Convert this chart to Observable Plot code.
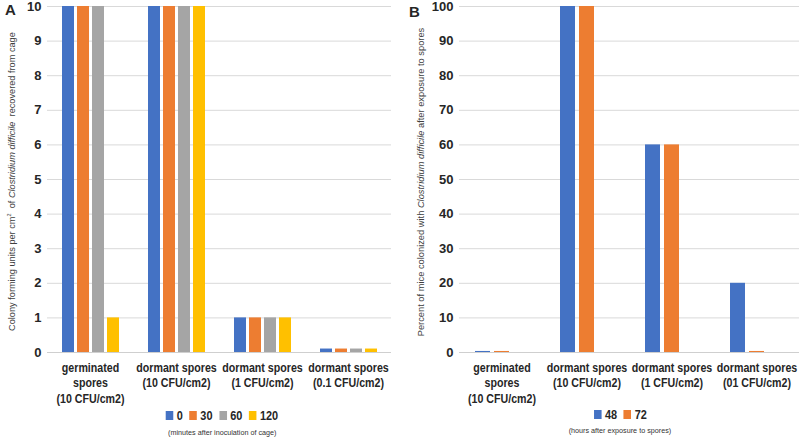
<!DOCTYPE html>
<html>
<head>
<meta charset="utf-8">
<script src="https://cdn.jsdelivr.net/npm/d3@7"></script>
<script src="https://cdn.jsdelivr.net/npm/@observablehq/plot@0.6"></script>
<style>
  html, body { margin: 0; padding: 0; background: #fff; }
  body { width: 800px; height: 440px; position: relative; overflow: hidden; font-family: "Liberation Sans", Arial, sans-serif; color: #262626; }
  .panel { position: absolute; top: 0; width: 400px; height: 440px; }
  .letter { position: absolute; font-weight: bold; font-size: 15px; }
  .ylab { position: absolute; white-space: nowrap; transform-origin: center center; color: #404040; }
  .legend { position: absolute; display: flex; justify-content: center; gap: 8px; font-weight: bold; font-size: 13px; transform: scaleX(0.84); transform-origin: center center; }
  .legend span.sw { display: inline-block; width: 9px; height: 9px; margin-right: 4px; vertical-align: 0px; }
  .note { position: absolute; font-size: 8px; text-align: center; color: #333; transform: scaleX(0.9); transform-origin: center center; }
</style>
</head>
<body>
<div id="pa" class="panel" style="left:0"></div>
<div id="pb" class="panel" style="left:400px"></div>
<script>
// ---- Panel A data ----
const catsA = ["germinated\nspores\n(10 CFU/cm2)", "dormant spores\n(10 CFU/cm2)", "dormant spores\n(1 CFU/cm2)", "dormant spores\n(0.1 CFU/cm2)"];
const seriesA = ["0", "30", "60", "120"];
const valsA0   = [10, 10, 1, 0.1];
const valsA30  = [10, 10, 1, 0.1];
const valsA60  = [10, 10, 1, 0.1];
const valsA120 = [1, 10, 1, 0.1];
const ticksA = [0, 1, 2, 3, 4, 5, 6, 7, 8, 9, 10];

// ---- Panel B data ----
const catsB = ["germinated\nspores\n(10 CFU/cm2)", "dormant spores\n(10 CFU/cm2)", "dormant spores\n(1 CFU/cm2)", "dormant spores\n(01 CFU/cm2)"];
const seriesB = ["48", "72"];
const valsB48 = [0.3, 100, 60, 20];
const valsB72 = [0.3, 100, 60, 0.3];
const ticksB = [0, 10, 20, 30, 40, 50, 60, 70, 80, 90, 100];

const colorsA = ["#4472C4", "#ED7D31", "#A5A5A5", "#FFC000"];
const colorsB = ["#4472C4", "#ED7D31"];

const dataA = [];
[valsA0, valsA30, valsA60, valsA120].forEach((vals, si) => vals.forEach((v, ci) => dataA.push({cat: catsA[ci], series: seriesA[si], value: v})));
const dataB = [];
[valsB48, valsB72].forEach((vals, si) => vals.forEach((v, ci) => dataB.push({cat: catsB[ci], series: seriesB[si], value: v})));

const font = "'Liberation Sans', Arial, sans-serif";

function makePlot(data, cats, xdom, colorDom, colors, ydom, ticks, ml, mr, pi, po) {
  const p = Plot.plot({
    width: 400, height: 405,
    marginLeft: ml, marginRight: mr, marginTop: 6, marginBottom: 53,
    style: {fontFamily: font, color: "#262626", background: "transparent", overflow: "visible"},
    fx: {domain: cats, padding: 0, label: null},
    x: {domain: xdom, paddingInner: pi, paddingOuter: po, axis: null},
    y: {domain: ydom, label: null},
    color: {domain: colorDom, range: colors},
    marks: [
      Plot.gridY(ticks, {stroke: "#d9d9d9", strokeOpacity: 1}),
      Plot.barY(data, {fx: "cat", x: "series", y: "value", fill: "series"}),
      Plot.ruleY([0], {stroke: "#cfcfcf"}),
      Plot.axisY(ticks, {tickSize: 0, tickPadding: 6, fontSize: 13, fontWeight: "bold", label: null}),
      Plot.axisFx({anchor: "bottom", tickSize: 0, tickPadding: 8, fontSize: 13, fontWeight: "bold", lineHeight: 1.2, label: null})
    ]
  });
  // condense the category labels horizontally, as in the reference
  d3.select(p).selectAll("g[aria-label*='fx-axis'] text").each(function () {
    const t = this.getAttribute("transform") || "";
    this.setAttribute("transform", t + " scale(0.82,1)");
  });
  return p;
}

const pa = document.getElementById("pa");
const plotA = makePlot(dataA, catsA, seriesA, seriesA, colorsA, [0, 10], ticksA, 45, 8, 0.2, 0.9);
plotA.style.position = "absolute"; plotA.style.left = "0"; plotA.style.top = "0";
pa.appendChild(plotA);

const pb = document.getElementById("pb");
const plotB = makePlot(dataB, catsB, [...seriesB, ""], seriesB, colorsB, [0, 100], ticksB, 58, 0, 0.2, 0.79);
plotB.style.position = "absolute"; plotB.style.left = "0"; plotB.style.top = "0";
pb.appendChild(plotB);

function addLabels(panel, letter, letterPos, ylabHTML, ylabFont, ylabCx, ylabCy, legendItems, legendColors, legendCx, legendY, note, noteY) {
  const L = document.createElement("div");
  L.className = "letter"; L.textContent = letter;
  L.style.left = letterPos[0] + "px"; L.style.top = letterPos[1] + "px";
  panel.appendChild(L);

  const Y = document.createElement("div");
  Y.className = "ylab"; Y.innerHTML = ylabHTML; Y.style.fontSize = ylabFont + "px";
  panel.appendChild(Y);
  const w = Y.offsetWidth, h = Y.offsetHeight;
  Y.style.left = (ylabCx - w / 2) + "px"; Y.style.top = (ylabCy - h / 2) + "px";
  Y.style.transform = "rotate(-90deg)";

  const G = document.createElement("div");
  G.className = "legend";
  legendItems.forEach((t, i) => {
    const it = document.createElement("div");
    it.innerHTML = `<span class="sw" style="background:${legendColors[i]}"></span>${t}`;
    G.appendChild(it);
  });
  panel.appendChild(G);
  G.style.left = (legendCx - G.offsetWidth / 2) + "px"; G.style.top = legendY + "px";

  const N = document.createElement("div");
  N.className = "note"; N.textContent = note;
  panel.appendChild(N);
  N.style.left = (legendCx - N.offsetWidth / 2) + "px"; N.style.top = noteY + "px";
}

addLabels(pa, "A", [5, 1], "Colony forming units per cm<sup style='font-size:0.6em'>2</sup>&nbsp; of <i>Clostridium difficile</i>&nbsp; recovered from cage", 9.2, 11, 181, seriesA, colorsA, 222, 408, "(minutes after inoculation of cage)", 428);
addLabels(pb, "B", [9, 3], "Percent of mice colonized with <i>Clostridium difficile</i> after exposure to spores", 9.3, 21, 182, seriesB, colorsB, 220, 407, "(hours after exposure to spores)", 426);
</script>
</body>
</html>
